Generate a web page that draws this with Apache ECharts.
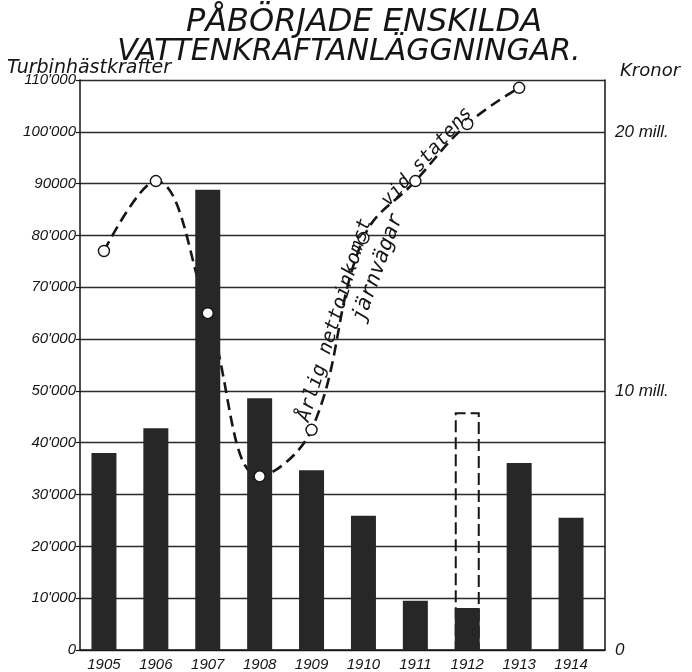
<!DOCTYPE html>
<html>
<head>
<meta charset="utf-8">
<script src="https://cdn.jsdelivr.net/npm/echarts@6/dist/echarts.min.js"></script>
<style>
  html, body { margin: 0; padding: 0; background: #fff; }
  #chart { width: 692px; height: 672px; }
</style>
</head>
<body>
<div id="chart"></div>
<script>
// ---- data ----
const years = ['1905', '1906', '1907', '1908', '1909', '1910', '1911', '1912', '1913', '1914'];
// Turbinhästkrafter (begun private hydro-power plants)
const horsepower = [38000, 42800, 88800, 48600, 34700, 25900, 9500, 8100, 36100, 25500];
// dashed outline bar for 1912
const horsepowerOutline = [null, null, null, null, null, null, null, 45900, null, null];
// Årlig nettoinkomst vid statens järnvägar, million kronor
const kronorMill = [15.4, 18.1, 13.0, 6.7, 8.5, 15.9, 18.1, 20.3, 21.7];
// tick labels
const leftTickLabels = ['0', "10'000", "20'000", "30'000", "40'000", "50'000", "60'000", "70'000", "80'000", "90000", "100'000", "110'000"];
const rightTickLabels = { 0: '0', 10: '10 mill.', 20: '20 mill.' };
const titleLines = ['PÅBÖRJADE ENSKILDA', 'VATTENKRAFTANLÄGGNINGAR.'];
const leftAxisName = 'Turbinhästkrafter';
const rightAxisName = 'Kronor';
const annotation = ['Årlig nettoinkomst', 'vid statens', 'järnvägar'];

const INK = '#151515';
const HAND = '"DejaVu Sans Mono", monospace';
const SANS = '"DejaVu Sans", sans-serif';
const LAB = '"Liberation Sans", Arial, sans-serif';

const chart = echarts.init(document.getElementById('chart'), null, { renderer: 'canvas' });

function txt(x, y, text, font, align, rotDeg, z) {
  return { type: 'text', x: x, y: y, rotation: (rotDeg || 0) * Math.PI / 180, silent: true, z: z || 10,
    style: { text: text, fill: INK, font: font, align: align, verticalAlign: 'middle',
             textAlign: align, textVerticalAlign: 'middle' } };
}

const option = {
  backgroundColor: '#fff',
  animation: false,
  grid: [
    { left: 80, right: 87, top: 80, bottom: 22 },   // frame
    { left: 78, right: 95, top: 80, bottom: 22 }    // data bands
  ],
  xAxis: [
    { gridIndex: 0, type: 'value', min: 0, max: 1,
      axisLine: { show: true, lineStyle: { color: INK, width: 1.5 } },
      axisTick: { show: false }, axisLabel: { show: false }, splitLine: { show: false } },
    { gridIndex: 1, type: 'category', data: years, boundaryGap: true,
      axisLine: { show: false }, axisTick: { show: false },
      axisLabel: { color: INK, fontFamily: LAB, fontStyle: 'italic', fontSize: 15, margin: 7 } }
  ],
  yAxis: [
    { gridIndex: 0, type: 'value', position: 'left', min: 0, max: 110000, interval: 10000,
      axisLine: { show: true, lineStyle: { color: INK, width: 1.5 } },
      axisTick: { show: true, length: 4, lineStyle: { color: INK, width: 1.2 } },
      axisLabel: { color: INK, fontFamily: LAB, fontStyle: 'italic', fontSize: 15, margin: 4,
        formatter: v => leftTickLabels[Math.round(v / 10000)] || '' },
      splitLine: { show: true, lineStyle: { color: '#2a2a2a', width: 1.3 } } },
    { gridIndex: 0, type: 'value', position: 'right', min: 0, max: 22, interval: 10,
      axisLine: { show: true, lineStyle: { color: INK, width: 1.5 } },
      axisTick: { show: false },
      axisLabel: { color: INK, fontFamily: LAB, fontStyle: 'italic', fontSize: 17, margin: 10,
        formatter: v => (rightTickLabels[v] !== undefined ? rightTickLabels[v] : '') },
      splitLine: { show: false } },
    { gridIndex: 1, type: 'value', min: 0, max: 110000, show: false },
    { gridIndex: 1, type: 'value', min: 0, max: 22, show: false }
  ],
  series: [
    { type: 'bar', name: 'planned', xAxisIndex: 1, yAxisIndex: 2, data: horsepowerOutline,
      barWidth: 25, barGap: '-100%', z: 2,
      itemStyle: { color: 'rgba(255,255,255,0)', borderColor: INK, borderWidth: 2, borderType: [12, 5] } },
    { type: 'bar', name: 'hp', xAxisIndex: 1, yAxisIndex: 2, data: horsepower,
      barWidth: 25, barGap: '-100%', z: 3,
      itemStyle: { color: '#272727' } },
    { type: 'line', name: 'kronor', xAxisIndex: 1, yAxisIndex: 3, data: kronorMill,
      smooth: 0.4, showSymbol: false, z: 1,
      lineStyle: { color: INK, width: 2.6, type: [11, 6] } },
    { type: 'scatter', name: 'kronorPts', xAxisIndex: 1, yAxisIndex: 3, data: kronorMill,
      symbol: 'circle', symbolSize: 11, z: 5,
      itemStyle: { color: '#ffffff', opacity: 1, borderColor: INK, borderWidth: 1.4 } }
  ],
  graphic: [
    txt(364, 23, titleLines[0], 'italic 32px ' + SANS, 'center'),
    txt(349, 52, titleLines[1], 'italic 30px ' + SANS, 'center'),
    txt(7, 68, leftAxisName, 'italic 19px ' + SANS, 'left'),
    txt(620, 71, rightAxisName, 'italic 18px ' + SANS, 'left'),
    txt(335, 320, annotation[0], 'italic 19.5px ' + HAND, 'center', 72.8),
    txt(427, 157, annotation[1], 'italic 19px ' + HAND, 'center', 48),
    txt(378, 268, annotation[2], 'italic 21px ' + HAND, 'center', 70)
  ]
};
chart.setOption(option);
</script>
</body>
</html>
